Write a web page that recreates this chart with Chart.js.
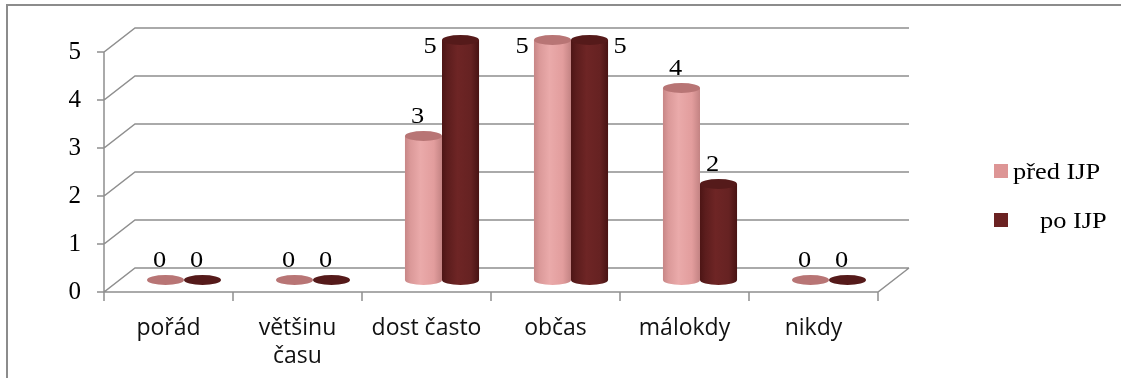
<!DOCTYPE html>
<html>
<head>
<meta charset="utf-8">
<script src="https://cdn.jsdelivr.net/npm/chart.js@4/dist/chart.umd.min.js"></script>
<style>
  body { margin: 0; background: #fff; }
  #box { width: 1121px; height: 378px; }
</style>
</head>
<body>
<div id="box"><canvas id="graf"></canvas></div>
<script>
// data
const kategorie = ["pořád", ["většinu", "času"], "dost často", "občas", "málokdy", "nikdy"];
const predIJP = [0, 0, 3, 5, 4, 0];
const poIJP = [0, 0, 5, 5, 2, 0];
const osaY = [0, 1, 2, 3, 4, 5];

// 3D look
const hloubka = { dx: 31, dy: -24 };
const seda = "#8f8f8f";
const patkove = "'Liberation Serif', 'Times New Roman', serif";
const stin = [
  { stops: ["#c78686", "#db9999", "#eaaaaa", "#e29d9d", "#c38383"], vicko: "#b87575" },
  { stops: ["#4d1515", "#5c1d1d", "#6e2525", "#662222", "#481313"], vicko: "#551a1a" }
];

function natazenyText(ctx, text, x, y, align) {
  const sx = 1.1;
  ctx.save();
  ctx.translate(x, y);
  ctx.scale(sx, 1);
  ctx.textAlign = align || "center";
  ctx.fillText(text, 0, 0);
  ctx.restore();
}

const valce = {
  id: "valce",
  beforeDraw(chart) {
    const ctx = chart.ctx;
    ctx.save();
    ctx.strokeStyle = "#8c8c8c";
    ctx.lineWidth = 2;
    ctx.beginPath();
    ctx.moveTo(6, 5); ctx.lineTo(chart.width, 5);
    ctx.moveTo(7, 4); ctx.lineTo(7, chart.height);
    ctx.stroke();
    ctx.restore();
  },
  beforeDatasetsDraw(chart) {
    const { ctx, chartArea: a, scales: { x, y } } = chart;
    const { dx, dy } = hloubka;
    ctx.save();
    ctx.strokeStyle = seda;
    ctx.lineWidth = 1.5;
    ctx.beginPath();
    osaY.forEach(v => {
      const py = y.getPixelForValue(v);
      ctx.moveTo(a.left - 7, py);
      ctx.lineTo(a.left, py);
      ctx.lineTo(a.left + dx, py + dy);
      ctx.lineTo(a.right + dx, py + dy);
    });
    const y0 = y.getPixelForValue(0);
    ctx.moveTo(a.left, y.getPixelForValue(5));
    ctx.lineTo(a.left, y0);
    ctx.lineTo(a.right, y0);
    ctx.lineTo(a.right + dx, y0 + dy);
    const sirka = (a.right - a.left) / kategorie.length;
    for (let i = 0; i <= kategorie.length; i++) {
      const px = x.getPixelForValue(0) - sirka / 2 + i * sirka;
      ctx.moveTo(px, y0);
      ctx.lineTo(px, y0 + 9);
    }
    ctx.stroke();
    ctx.save();
    ctx.translate(dx / 2, dy / 2);
  },
  afterDatasetsDraw(chart) {
    const ctx = chart.ctx;
    const ry = 5;
    chart.data.datasets.forEach((ds, i) => {
      const meta = chart.getDatasetMeta(i);
      meta.data.forEach((bar, j) => {
        const { x, y, base, width } = bar.getProps(["x", "y", "base", "width"], true);
        const left = x - width / 2;
        const g = ctx.createLinearGradient(left, 0, left + width, 0);
        const s = stin[i].stops;
        [0, 0.15, 0.42, 0.78, 1].forEach((p, k) => g.addColorStop(p, s[k]));
        if (ds.data[j] > 0) {
          ctx.fillStyle = g;
          ctx.fillRect(left, y, width, base - y);
          ctx.beginPath();
          ctx.ellipse(x, base, width / 2, ry, 0, 0, Math.PI);
          ctx.fill();
        }
        ctx.fillStyle = stin[i].vicko;
        ctx.beginPath();
        ctx.ellipse(x, y, width / 2, ry, 0, 0, Math.PI * 2);
        ctx.fill();
      });
    });
    ctx.restore();

    // data labels
    const { dx, dy } = hloubka;
    const ymax = chart.scales.y.max;
    ctx.save();
    ctx.fillStyle = "#000";
    ctx.font = "24px " + patkove;
    ctx.textBaseline = "middle";
    chart.data.datasets.forEach((ds, i) => {
      chart.getDatasetMeta(i).data.forEach((bar, j) => {
        const v = ds.data[j];
        const { x, y, width } = bar.getProps(["x", "y", "width"], true);
        const bx = x + dx / 2, by = y + dy / 2;
        let lx = bx - 6, ly = by - 19;
        if (v === ymax) {
          const sousedMax = i > 0 && chart.data.datasets[i - 1].data[j] === ymax;
          lx = sousedMax ? bx + width / 2 + 12 : bx - width / 2 - 12;
          ly = by + 7;
        }
        natazenyText(ctx, String(v), lx, ly);
      });
    });

    // legend
    const leg = [{ y: 171, tx: 1013 }, { y: 220, tx: 1040 }];
    chart.data.datasets.forEach((ds, i) => {
      ctx.fillStyle = ds.backgroundColor;
      ctx.fillRect(994, leg[i].y - 7, 14, 14);
      ctx.fillStyle = "#000";
      natazenyText(ctx, ds.label, leg[i].tx, leg[i].y + 2, "left");
    });
    ctx.restore();
  }
};

const graf = document.getElementById("graf");

new Chart(graf, {
  type: "bar",
  data: {
    labels: kategorie,
    datasets: [
      { label: "před IJP", data: predIJP, backgroundColor: "#dd9595", clip: false },
      { label: "po IJP", data: poIJP, backgroundColor: "#6b2222", clip: false }
    ]
  },
  options: {
    responsive: true,
    maintainAspectRatio: false,
    animation: false,
    categoryPercentage: 0.574,
    barPercentage: 1,
    layout: { padding: { left: 0, top: 52, right: 243, bottom: 0 } },
    plugins: { legend: { display: false }, tooltip: { enabled: false } },
    scales: {
      x: {
        grid: { display: false, drawTicks: false },
        border: { display: false },
        ticks: {
          color: "#111",
          padding: 23,
          maxRotation: 0,
          font: { family: "'Open Sans'", size: 23, lineHeight: 1.2 }
        },
        afterFit(s) { s.height = 86; }
      },
      y: {
        min: 0,
        max: 5,
        grid: { display: false, drawTicks: false },
        border: { display: false },
        ticks: {
          stepSize: 1,
          color: "#000",
          padding: 23,
          font: { family: patkove, size: 25 }
        },
        afterFit(s) { s.width = 104; }
      }
    }
  },
  plugins: [valce]
});
</script>
</body>
</html>
